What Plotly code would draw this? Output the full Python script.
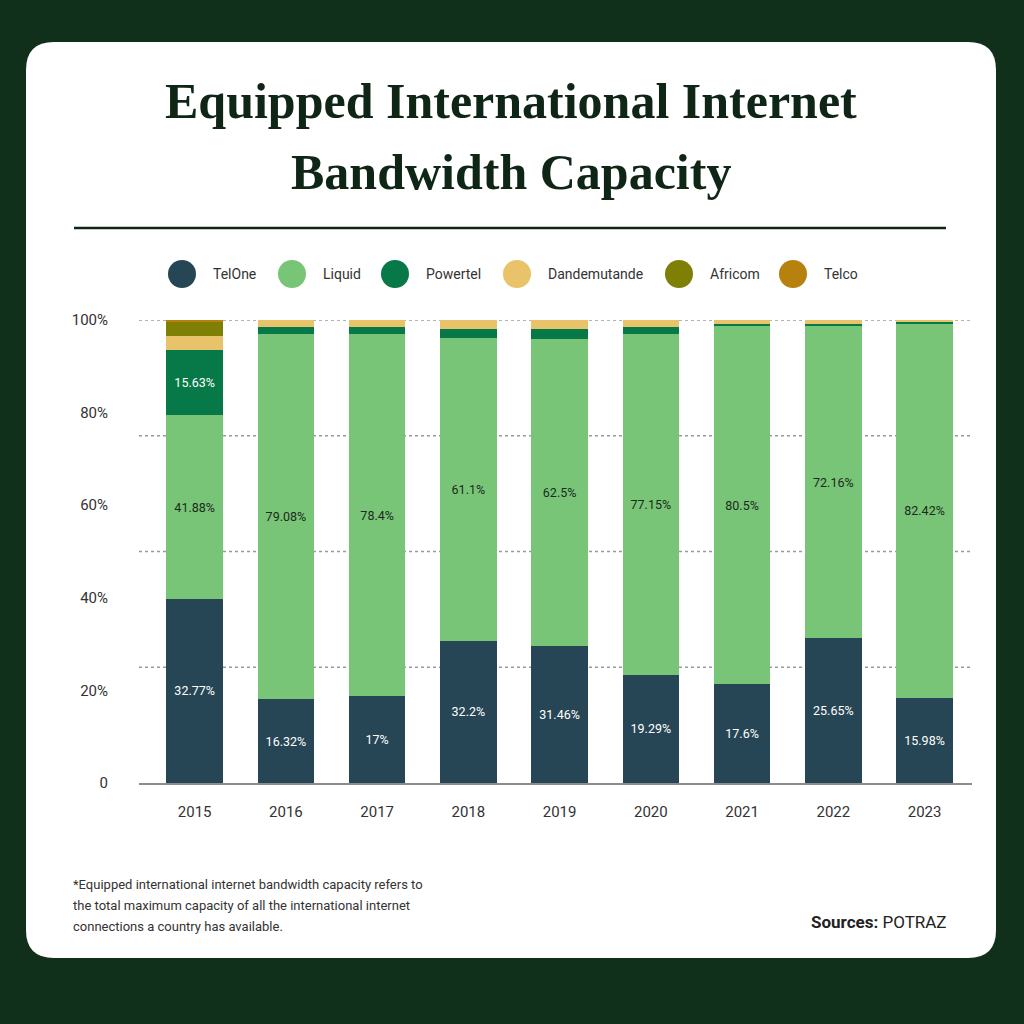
import plotly.graph_objects as go

# shares (percent of total)
years = ["2015", "2016", "2017", "2018", "2019", "2020", "2021", "2022", "2023"]
telone = [39.8, 18.1, 18.7, 30.7, 29.5, 23.4, 21.3, 31.3, 18.4]
liquid = [39.6, 78.9, 78.3, 65.4, 66.5, 73.6, 77.3, 67.3, 80.8]
powertel = [14.1, 1.5, 1.5, 2.0, 2.1, 1.5, 0.6, 0.6, 0.4]
dandemutande = [3.0, 1.5, 1.5, 1.9, 1.9, 1.5, 0.8, 0.8, 0.4]
africom = [3.2, 0, 0, 0, 0, 0, 0, 0, 0]
telco = [0.3, 0, 0, 0, 0, 0, 0, 0, 0]

# labels as printed on the bars
telone_lbl = ["32.77%", "16.32%", "17%", "32.2%", "31.46%", "19.29%", "17.6%", "25.65%", "15.98%"]
liquid_lbl = ["41.88%", "79.08%", "78.4%", "61.1%", "62.5%", "77.15%", "80.5%", "72.16%", "82.42%"]
powertel_lbl = ["15.63%", "", "", "", "", "", "", "", ""]

names = ["TelOne", "Liquid", "Powertel", "Dandemutande", "Africom", "Telco"]
colors = ["#274655", "#78c577", "#077848", "#e8c36a", "#7f7f06", "#b6810c"]
series = [telone, liquid, powertel, dandemutande, africom, telco]
labels = [telone_lbl, liquid_lbl, powertel_lbl, None, None, None]
label_colors = ["#ffffff", "#1c2a1e", "#ffffff", "#000", "#000", "#000"]

BG = "#10301b"
INK = "#0f2616"


def px(x):
    return x / 1024


def py(y):
    return 1 - y / 1024


def note(text, x, y, size, color="#333333", family="Roboto", xanchor="center"):
    fig.add_annotation(text=text, x=px(x), y=py(y), xref="paper", yref="paper",
                       xanchor=xanchor, yanchor="middle", showarrow=False,
                       font=dict(family=family, size=size, color=color))


fig = go.Figure()
for name, vals, col, lbl, lc in zip(names, series, colors, labels, label_colors):
    fig.add_trace(go.Bar(
        x=years, y=vals, name=name, marker_color=col, marker_line_width=0,
        text=lbl, textposition="inside" if lbl else "none",
        insidetextanchor="middle", textangle=0, constraintext="none",
        textfont=dict(family="Roboto", size=12.5, color=lc),
        showlegend=False, hoverinfo="x+y+name"))

# card background (rounded)
x0, x1, y0, y1, r = px(26), px(996), py(958), py(42), 28 / 1024
card = (f"M {x0+r},{y0} L {x1-r},{y0} Q {x1},{y0} {x1},{y0+r} "
        f"L {x1},{y1-r} Q {x1},{y1} {x1-r},{y1} L {x0+r},{y1} "
        f"Q {x0},{y1} {x0},{y1-r} L {x0},{y0+r} Q {x0},{y0} {x0+r},{y0} Z")
fig.add_shape(type="path", path=card, xref="paper", yref="paper",
              fillcolor="white", line_width=0, layer="below")

# dotted gridlines (every 25%)
for g in [25, 50, 75, 100]:
    fig.add_shape(type="line", xref="x domain", yref="y", x0=0, x1=1, y0=g, y1=g,
                  line=dict(color="#9a9a9a", width=1.5, dash="dot"), layer="below")

# title + rule
note("<b>Equipped International Internet</b>", 511, 101, 50, INK, "Liberation Serif")
note("<b>Bandwidth Capacity</b>", 511, 172, 50, INK, "Liberation Serif")
fig.add_shape(type="line", xref="paper", yref="paper", x0=px(74), x1=px(946),
              y0=py(228), y1=py(228), line=dict(color=INK, width=2.5))

# legend drawn by hand to get the large dots
leg_dot_x = [182, 292, 395, 517, 679, 793]
for name, col, cx in zip(names, colors, leg_dot_x):
    fig.add_shape(type="circle", xref="paper", yref="paper",
                  x0=px(cx - 14), x1=px(cx + 14), y0=py(288), y1=py(260),
                  fillcolor=col, line_width=0)
    note(name, cx + 29, 274, 14, xanchor="left")

# footnote and source
foot = ["*Equipped international internet bandwidth capacity refers to",
        "the total maximum capacity of all the international internet",
        "connections a country has available."]
for i, line in enumerate(foot):
    note(line, 71, 884 + 21 * i, 13, xanchor="left")
note("<b>Sources:</b> POTRAZ", 949, 922, 17, "#222222", xanchor="right")

fig.update_layout(
    width=1024, height=1024, autosize=False,
    margin=dict(l=0, r=0, t=0, b=0, pad=0, autoexpand=False),
    paper_bgcolor=BG, plot_bgcolor="rgba(0,0,0,0)",
    barmode="stack", barnorm="percent", bargap=0.38,
    xaxis=dict(domain=[px(139), px(972)], type="category", range=[-0.61, 8.52],
               automargin=False,
               showline=True, linecolor="#8c8c8c", linewidth=1.5, showgrid=False,
               ticks="", ticklabelstandoff=14,
               tickfont=dict(family="Roboto", size=15, color="#333333")),
    yaxis=dict(domain=[py(783), py(320)], range=[0, 100], showgrid=False,
               automargin=False, zeroline=False, showline=False,
               tickvals=[0, 20, 40, 60, 80, 100],
               ticktext=["0", "20%", "40%", "60%", "80%", "100%"],
               ticklabelstandoff=30,
               tickfont=dict(family="Roboto", size=15, color="#333333")),
)

fig.write_html("out.html", config={"displayModeBar": False},
               post_script="document.body.style.margin='0';")
